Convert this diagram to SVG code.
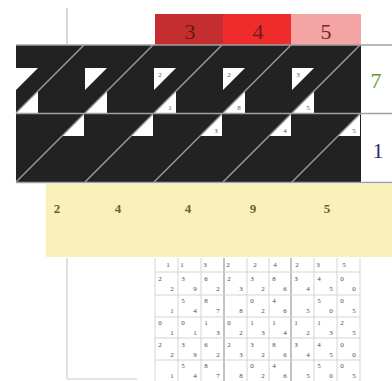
<svg xmlns="http://www.w3.org/2000/svg" width="392" height="381" viewBox="0 0 392 381">
<style>
.hd{font-family:"Liberation Serif",serif;font-size:22px;text-anchor:middle}
.sm{font-family:"Liberation Serif",serif;font-size:7px;fill:#555;text-anchor:middle}
.wt{fill:#fff}
.dg{stroke:#9a9a9a;stroke-width:1.4}
.sep{stroke:#a0a0a0;stroke-width:1.5}
.yl{font-family:"Liberation Serif",serif;font-size:13px;font-weight:bold;fill:#6a5f3a;text-anchor:middle}
.gl{stroke:#d4d4d4;stroke-width:1}
.gd{stroke:#a8a8a8;stroke-width:1.4}
.tn{font-family:"Liberation Serif",serif;font-size:7px;fill:#4a4a4a;text-anchor:middle}
</style>
<rect width="392" height="381" fill="#fff"/>
<g id="frame">
<line x1="67" y1="8" x2="67" y2="44" stroke="#bbb" stroke-width="1.2"/>
<line x1="67" y1="258" x2="67" y2="379" stroke="#ccc" stroke-width="1.2"/>
<line x1="67" y1="379" x2="137" y2="379" stroke="#ccc" stroke-width="1.2"/>
</g>
<g id="top-digits">
<rect x="155" y="14" width="68" height="31" fill="#c42e30"/>
<rect x="223" y="14" width="68" height="31" fill="#ef2c2c"/>
<rect x="291" y="14" width="70" height="31" fill="#f5a4a4"/>
<text class="hd" x="190" y="39" fill="#6e1414">3</text>
<text class="hd" x="258" y="39" fill="#7a1616">4</text>
<text class="hd" x="326" y="39" fill="#7e2626">5</text>
</g>
<g id="lattice">
<rect x="16" y="45" width="345" height="137" fill="#222"/>
<g id="row1">
<polygon class="wt" points="16,68 38,68 16,90"/><polygon class="wt" points="16,113 38,113 38,91"/>
<polygon class="wt" points="85,68 107,68 85,90"/><polygon class="wt" points="85,113 107,113 107,91"/>
<polygon class="wt" points="154,68 176,68 154,90"/><polygon class="wt" points="154,113 176,113 176,91"/>
<polygon class="wt" points="223,68 245,68 223,90"/><polygon class="wt" points="223,113 245,113 245,91"/>
<polygon class="wt" points="292,68 314,68 292,90"/><polygon class="wt" points="292,113 314,113 314,91"/>
<line class="dg" x1="16" y1="113" x2="84" y2="45"/>
<line class="dg" x1="85" y1="113" x2="153" y2="45"/>
<line class="dg" x1="154" y1="113" x2="222" y2="45"/>
<line class="dg" x1="223" y1="113" x2="291" y2="45"/>
<line class="dg" x1="292" y1="113" x2="360" y2="45"/>
<text class="sm" x="160" y="77">2</text><text class="sm" x="170" y="110">1</text>
<text class="sm" x="229" y="77">2</text><text class="sm" x="239" y="110">8</text>
<text class="sm" x="298" y="77">3</text><text class="sm" x="308" y="110">5</text>
</g>
<g id="row2">
<polygon class="wt" points="84,114 84,136 62,136"/>
<polygon class="wt" points="153,114 153,136 131,136"/>
<polygon class="wt" points="222,114 222,136 200,136"/>
<polygon class="wt" points="291,114 291,136 269,136"/>
<polygon class="wt" points="360,114 360,136 338,136"/>
<line class="dg" x1="16" y1="182" x2="84" y2="114"/>
<line class="dg" x1="85" y1="182" x2="153" y2="114"/>
<line class="dg" x1="154" y1="182" x2="222" y2="114"/>
<line class="dg" x1="223" y1="182" x2="291" y2="114"/>
<line class="dg" x1="292" y1="182" x2="360" y2="114"/>
<text class="sm" x="216" y="133">3</text>
<text class="sm" x="285" y="133">4</text>
<text class="sm" x="354" y="133">5</text>
</g>
<line class="sep" x1="16" y1="45" x2="392" y2="45"/>
<line class="sep" x1="16" y1="113.5" x2="392" y2="113.5"/>
<line class="sep" x1="16" y1="182.5" x2="392" y2="182.5"/>
</g>
<g id="right-digits">
<text class="hd" x="376" y="88" fill="#5c9a3c">7</text>
<text class="hd" x="378" y="158" fill="#2c2c6e">1</text>
</g>
<g id="sum">
<rect x="46" y="184" width="346" height="73" fill="#faf0b9"/>
<text class="yl" x="57" y="213">2</text>
<text class="yl" x="118" y="213">4</text>
<text class="yl" x="188" y="213">4</text>
<text class="yl" x="253" y="213">9</text>
<text class="yl" x="327" y="213">5</text>
</g>
<g id="table">
<g>
<line class="gl" x1="155" y1="258" x2="155" y2="381"/>
<line class="gl" x1="178" y1="258" x2="178" y2="381"/>
<line class="gl" x1="201" y1="258" x2="201" y2="381"/>
<line class="gd" x1="224" y1="258" x2="224" y2="381"/>
<line class="gl" x1="247" y1="258" x2="247" y2="381"/>
<line class="gl" x1="269" y1="258" x2="269" y2="381"/>
<line class="gd" x1="291" y1="258" x2="291" y2="381"/>
<line class="gl" x1="314" y1="258" x2="314" y2="381"/>
<line class="gl" x1="337" y1="258" x2="337" y2="381"/>
<line class="gl" x1="360" y1="258" x2="360" y2="381"/>
<line class="gl" x1="155" y1="272" x2="360" y2="272"/>
<line class="gl" x1="155" y1="295" x2="360" y2="295"/>
<line class="gl" x1="155" y1="317" x2="360" y2="317"/>
<line class="gl" x1="155" y1="338" x2="360" y2="338"/>
<line class="gl" x1="155" y1="360" x2="360" y2="360"/>
</g>
<g>
<text class="tn" x="168" y="267">1</text><text class="tn" x="182" y="267">1</text><text class="tn" x="205" y="267">3</text>
<text class="tn" x="228" y="267">2</text><text class="tn" x="255" y="267">2</text><text class="tn" x="275" y="267">4</text>
<text class="tn" x="297" y="267">2</text><text class="tn" x="318" y="267">3</text><text class="tn" x="344" y="267">5</text>
</g>
<g id="rowA">
<text class="tn" x="160" y="281">2</text><text class="tn" x="172" y="291">2</text>
<text class="tn" x="183" y="281">3</text><text class="tn" x="195" y="291">9</text>
<text class="tn" x="206" y="281">6</text><text class="tn" x="218" y="291">2</text>
<text class="tn" x="229" y="281">2</text><text class="tn" x="241" y="291">3</text>
<text class="tn" x="252" y="281">3</text><text class="tn" x="263" y="291">2</text>
<text class="tn" x="274" y="281">8</text><text class="tn" x="285" y="291">6</text>
<text class="tn" x="296" y="281">3</text><text class="tn" x="308" y="291">4</text>
<text class="tn" x="319" y="281">4</text><text class="tn" x="331" y="291">5</text>
<text class="tn" x="342" y="281">0</text><text class="tn" x="354" y="291">0</text>
</g>
<g id="rowB">
<text class="tn" x="172" y="313">1</text>
<text class="tn" x="183" y="303">5</text><text class="tn" x="195" y="313">4</text>
<text class="tn" x="206" y="303">8</text><text class="tn" x="218" y="313">7</text>
<text class="tn" x="241" y="313">8</text>
<text class="tn" x="252" y="303">0</text><text class="tn" x="263" y="313">2</text>
<text class="tn" x="274" y="303">4</text><text class="tn" x="285" y="313">6</text>
<text class="tn" x="308" y="313">5</text>
<text class="tn" x="319" y="303">5</text><text class="tn" x="331" y="313">0</text>
<text class="tn" x="342" y="303">0</text><text class="tn" x="354" y="313">5</text>
</g>
<g id="rowC">
<text class="tn" x="160" y="325">0</text><text class="tn" x="172" y="335">1</text>
<text class="tn" x="183" y="325">0</text><text class="tn" x="195" y="335">1</text>
<text class="tn" x="206" y="325">1</text><text class="tn" x="218" y="335">3</text>
<text class="tn" x="229" y="325">0</text><text class="tn" x="241" y="335">2</text>
<text class="tn" x="252" y="325">1</text><text class="tn" x="263" y="335">3</text>
<text class="tn" x="274" y="325">1</text><text class="tn" x="285" y="335">4</text>
<text class="tn" x="296" y="325">1</text><text class="tn" x="308" y="335">2</text>
<text class="tn" x="319" y="325">1</text><text class="tn" x="331" y="335">3</text>
<text class="tn" x="342" y="325">2</text><text class="tn" x="354" y="335">5</text>
</g>
<g id="rowD">
<text class="tn" x="160" y="347">2</text><text class="tn" x="172" y="357">2</text>
<text class="tn" x="183" y="347">3</text><text class="tn" x="195" y="357">9</text>
<text class="tn" x="206" y="347">6</text><text class="tn" x="218" y="357">2</text>
<text class="tn" x="229" y="347">2</text><text class="tn" x="241" y="357">3</text>
<text class="tn" x="252" y="347">3</text><text class="tn" x="263" y="357">2</text>
<text class="tn" x="274" y="347">8</text><text class="tn" x="285" y="357">6</text>
<text class="tn" x="296" y="347">3</text><text class="tn" x="308" y="357">4</text>
<text class="tn" x="319" y="347">4</text><text class="tn" x="331" y="357">5</text>
<text class="tn" x="342" y="347">0</text><text class="tn" x="354" y="357">0</text>
</g>
<g id="rowE">
<text class="tn" x="172" y="378">1</text>
<text class="tn" x="183" y="368">5</text><text class="tn" x="195" y="378">4</text>
<text class="tn" x="206" y="368">8</text><text class="tn" x="218" y="378">7</text>
<text class="tn" x="241" y="378">8</text>
<text class="tn" x="252" y="368">0</text><text class="tn" x="263" y="378">2</text>
<text class="tn" x="274" y="368">4</text><text class="tn" x="285" y="378">6</text>
<text class="tn" x="308" y="378">5</text>
<text class="tn" x="319" y="368">5</text><text class="tn" x="331" y="378">0</text>
<text class="tn" x="342" y="368">0</text><text class="tn" x="354" y="378">5</text>
</g>
</g>
</svg>
